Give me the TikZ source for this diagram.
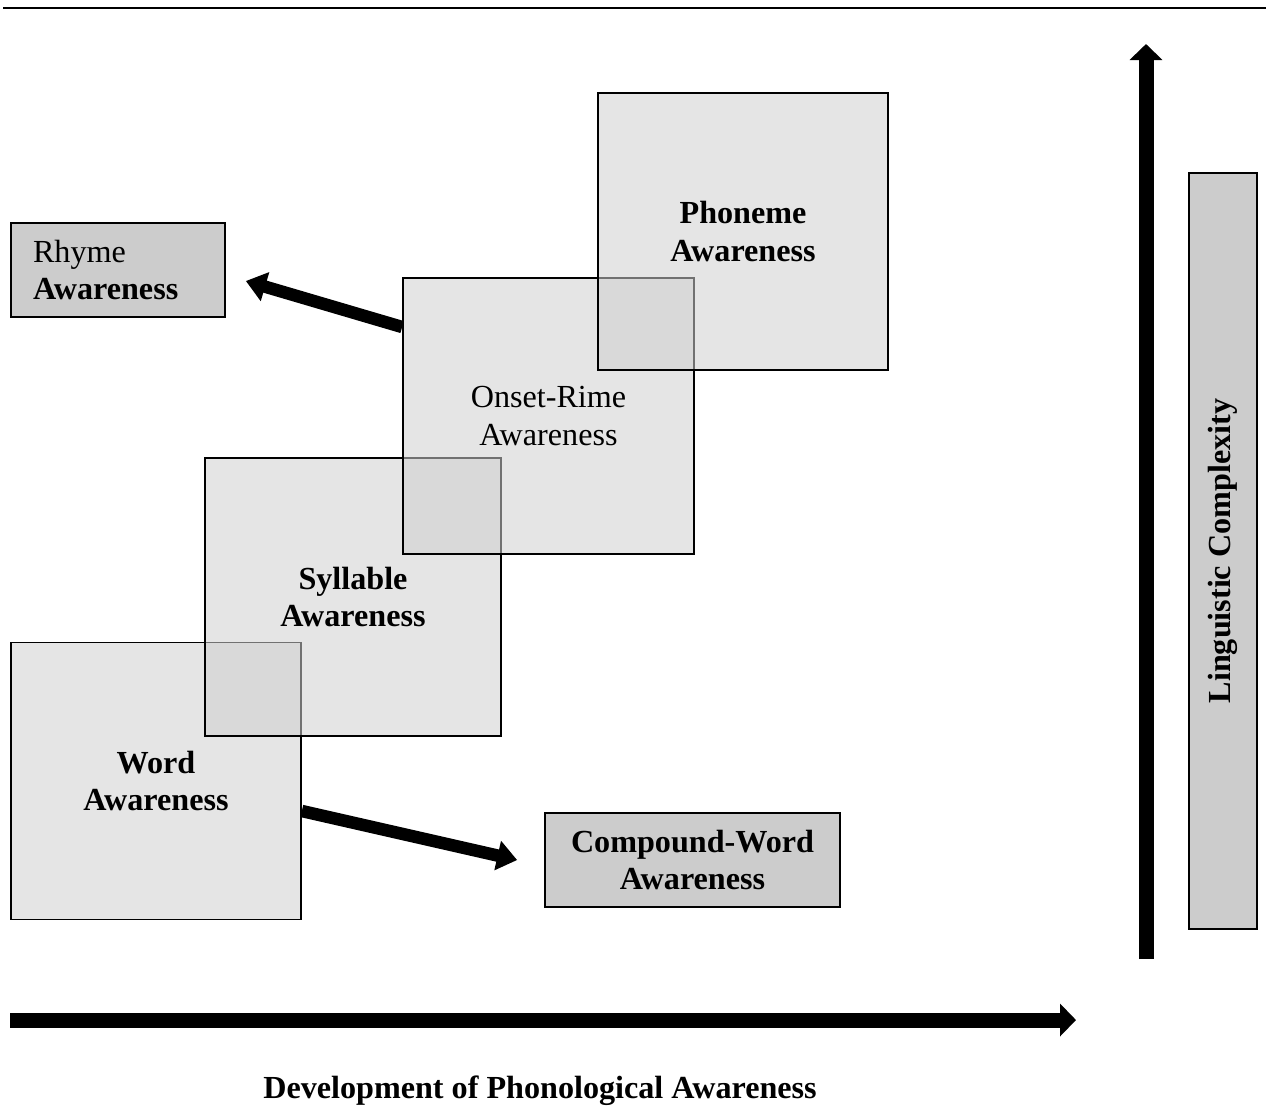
\documentclass[tikz,border=0pt]{standalone}
\usepackage{fontspec}
\setmainfont{Liberation Serif}
\usetikzlibrary{arrows.meta}
\begin{document}
\begin{tikzpicture}[
				x=0.02cm, y=-0.02cm,
				font=\fontsize{18.3}{21.6}\selectfont,
				stagebox/.style={rectangle, draw, line width=1pt, fill=black!19, fill opacity=0.55, text opacity=1, align=center, inner sep=0pt, minimum width=5.82cm, minimum height=5.54cm},
				sidebox/.style={rectangle, draw, line width=1pt, fill=black!20, inner sep=0pt, minimum height=1.88cm},
				bigarrow/.style={line width=0.25cm, -{Triangle[width=0.58cm, length=0.4cm]}},
				axisarrow/.style={line width=0.3cm, -{Triangle[width=0.64cm, length=0.32cm]}}
				]
				
				\useasboundingbox (0,0) rectangle (1266,1107);
				\draw[line width=1.6pt] (3,8) -- (1266,8);
				
				\begin{scope}
				\node[stagebox, minimum width=5.8cm] (word) at (156,781) {\textbf{Word}\\\textbf{Awareness}};
				\node[stagebox, minimum width=5.92cm, minimum height=5.56cm] (syllable) at (353,597) {\textbf{Syllable}\\\textbf{Awareness}};
				\node[stagebox, minimum height=5.52cm] (onset) at (548.5,416) {Onset-Rime\\Awareness};
				\node[stagebox, minimum width=5.8cm] (phoneme) at (743,231.5) {\textbf{Phoneme}\\\textbf{Awareness}};
				\end{scope}
				
				\node[sidebox, minimum width=4.28cm, align=left, text width=3.4cm] (rhyme) at (118,270) {Rhyme\\\textbf{Awareness}};
				\node[sidebox, minimum width=5.9cm, align=center] (compound) at (692.5,860) {\textbf{Compound-Word}\\\textbf{Awareness}};
				
				\draw[bigarrow] ([yshift=1.78cm]onset.west) -- ([xshift=0.4cm, yshift=-0.22cm]rhyme.east);
				\draw[bigarrow] ([yshift=-0.6cm]word.east) -- ([xshift=-0.54cm]compound.west);
				
				\node[sidebox, rotate=90, minimum width=15.12cm, minimum height=1.36cm] (complexity) at (1223,551) {\textbf{Linguistic Complexity}};
				
				\coordinate (vbot) at (1146,959);
				\coordinate (vtop) at (1146,44);
				\draw[axisarrow] (vbot) -- (vtop);
				
				\coordinate (hstart) at (10,1020);
				\coordinate (hend) at (1076,1020);
				\draw[axisarrow] (hstart) -- (hend);
				
				\node (development) at (540,1091) {\textbf{Development of Phonological Awareness}};
				\end{tikzpicture}
\end{document}
